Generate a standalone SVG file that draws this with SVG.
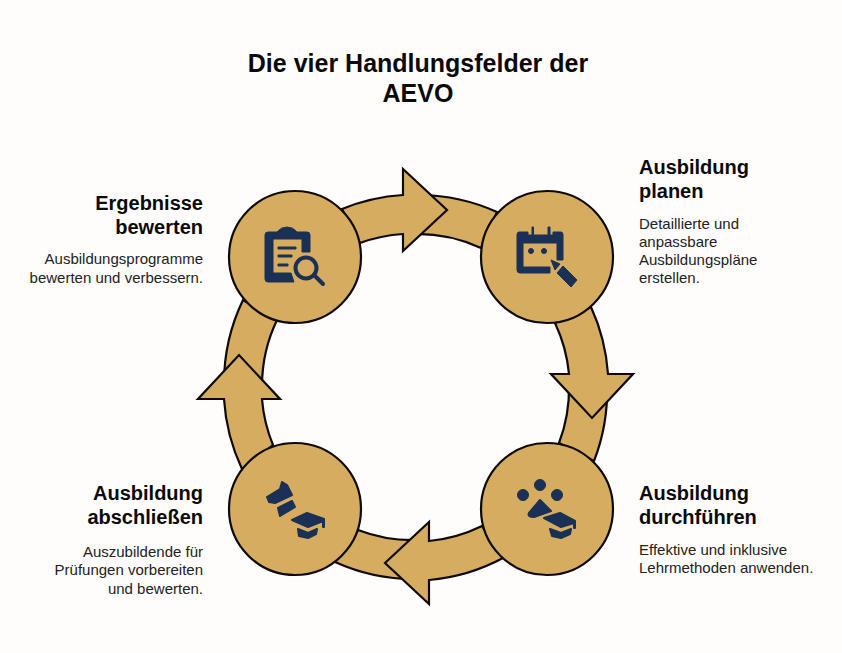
<svg xmlns="http://www.w3.org/2000/svg" width="842" height="653" viewBox="0 0 842 653">
<style>
.b{fill:#D5AC60;stroke:#0D0A08;stroke-width:2.2;stroke-linejoin:miter}
.n{fill:#1A3055;stroke:#1A3055;stroke-width:1;stroke-linejoin:round}
.r{fill:#1A3055;stroke:#1A3055;stroke-width:2;stroke-linejoin:round}
.t{font-family:"Liberation Sans",Arial,sans-serif;fill:#0A0A0A}
.h{font-size:20px;font-weight:700}
.d{font-size:15px;fill:#222}
.e{text-anchor:end}
</style>
<rect width="842" height="653" fill="#FEFDFC"/>
<g id="connectors">
<path class="b" d="M410,234A153,153 0 0 1 481,248L497,212A192,192 0 0 0 420,195Z"/>
<path class="b" d="M342,209A192,192 0 0 1 403,195V169L447,210L403,251V234A153,153 0 0 0 360,243Z"/>
<path class="b" d="M569,385A153,153 0 0 1 559,443L594,461A192,192 0 0 0 607,385Z"/>
<path class="b" d="M591,307A192,192 0 0 1 608,374H633L592,418L551,374H569A153,153 0 0 0 555,323Z"/>
<path class="b" d="M420,540A153,153 0 0 1 358,530L335,562A192,192 0 0 0 420,579Z"/>
<path class="b" d="M482,526A153,153 0 0 1 429,541V522L385,563L429,604V580A192,192 0 0 0 503,558Z"/>
<path class="b" d="M224,385A192,192 0 0 1 243,300L277,320A153,153 0 0 0 262,385Z"/>
<path class="b" d="M242,469A192,192 0 0 1 224,399H198L239,355L280,399H262A153,153 0 0 0 273,445Z"/>
</g>
<g id="title"><text class="t" x="418" y="72" font-size="25" font-weight="700" text-anchor="middle">Die vier Handlungsfelder der</text><text class="t" x="418" y="102" font-size="25" font-weight="700" text-anchor="middle">AEVO</text></g>
<g id="node-ergebnisse">
<circle class="b" cx="295" cy="257" r="66"/>
<path class="n" d="M268,232H277Q281,227 287,227Q293,227 297,232H307Q310,232 310,235V252H302V239H273V273H291L294,282H268Q265,282 265,279V235Q265,232 268,232Z"/>
<path class="n" d="M278,247H296V249H278ZM278,255H292V257H278ZM278,264H288V266H278Z"/>
<circle cx="306" cy="268" r="10.500" fill="#D5AC60" stroke="#1A3055" stroke-width="4"/>
<path d="M314,275L323,284" stroke="#1A3055" stroke-width="4" stroke-linecap="round" fill="none"/>
<text class="t h e" x="203" y="210">Ergebnisse</text><text class="t h e" x="203" y="234">bewerten</text>
<text class="t d e" x="203" y="264">Ausbildungsprogramme</text><text class="t d e" x="203" y="283">bewerten und verbessern.</text>
</g>
<g id="node-planen">
<circle class="b" cx="547" cy="257" r="66"/>
<path class="n" d="M519,232H528V235H532V227H533.500V235H548V227H550V235H553V232H561Q563,232 563,235V260H557V243H523V267H550V273H520Q517,273 517,270V235Q517,232 519,232Z"/>
<circle class="n" cx="531" cy="251" r="2.500"/><circle class="n" cx="544" cy="251" r="2.500"/>
<path class="n" d="M563,266L577,280L571,287L557,273ZM551,260L560,264L555,270Z"/>
<text class="t h" x="639" y="174">Ausbildung</text><text class="t h" x="639" y="198">planen</text>
<text class="t d" x="639" y="229">Detaillierte und</text><text class="t d" x="639" y="247">anpassbare</text><text class="t d" x="639" y="265">Ausbildungspläne</text><text class="t d" x="639" y="283">erstellen.</text>
</g>
<g id="node-durchfuehren">
<circle class="b" cx="547" cy="509" r="66"/>
<circle class="n" cx="523" cy="495" r="5.500"/><circle class="n" cx="540" cy="485" r="5.500"/><circle class="n" cx="557" cy="495" r="5.500"/>
<path class="r" d="M540,500L551,511L534,517Q527,517 529,513ZM544,518L560,513L575,521V528H574V523L561,527ZM550,529L561,533L571,529L570,534L561,538L552,536Z"/>
<text class="t h" x="639" y="500">Ausbildung</text><text class="t h" x="639" y="524">durchführen</text>
<text class="t d" x="639" y="555">Effektive und inklusive</text><text class="t d" x="639" y="573">Lehrmethoden anwenden.</text>
</g>
<g id="node-abschliessen">
<circle class="b" cx="295" cy="509" r="66"/>
<path class="r" d="M267,497L280,489L282,482L287,485L292,495L275,503L269,502ZM278,508L292,501L295,507L280,516ZM292,520L307,513L324,519V527H323V521L308,527ZM298,529L308,533L317,529L316,534L308,538L299,536Z"/>
<text class="t h e" x="203" y="500">Ausbildung</text><text class="t h e" x="203" y="524">abschließen</text>
<text class="t d e" x="203" y="557">Auszubildende für</text><text class="t d e" x="203" y="575">Prüfungen vorbereiten</text><text class="t d e" x="203" y="594">und bewerten.</text>
</g>
</svg>
